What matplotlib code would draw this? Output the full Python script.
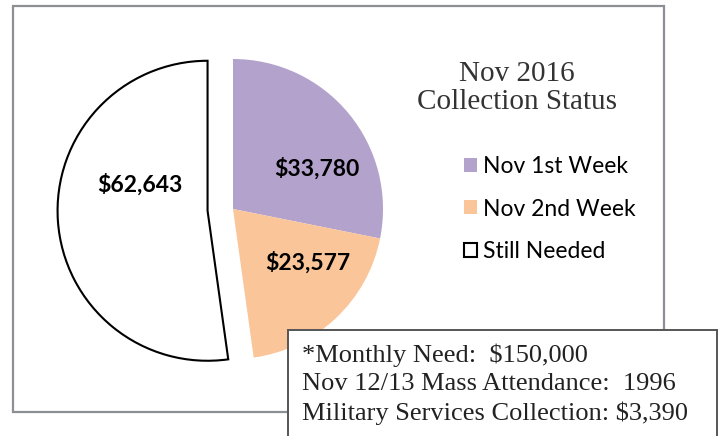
import matplotlib.pyplot as plt
from matplotlib.patches import Rectangle

# data
categories = ["Nov 1st Week", "Nov 2nd Week", "Still Needed"]
amounts = [33780, 23577, 62643]
value_labels = ["$33,780", "$23,577", "$62,643"]
colors = ["#b3a2cc", "#fac598", "white"]
explode = [0, 0, 0.17]
label_pos = [(0.56, 0.27), (0.5, -0.36), (-0.62, 0.16)]

title_lines = ["Nov 2016", "Collection Status"]
note_lines = [
    "*Monthly Need:  $150,000",
    "Nov 12/13 Mass Attendance:  1996",
    "Military Services Collection: $3,390",
]

W, H = 724, 436
fig = plt.figure(figsize=(W / 100, H / 100), dpi=100)

# outer grey frame
fig.patches.append(Rectangle((13 / W, 1 - 412 / H), (664 - 13) / W, (412 - 6) / H,
                             transform=fig.transFigure, fill=False,
                             edgecolor="#8c9094", linewidth=1.6, zorder=1))

# pie centred at (233, 209) px, radius 150 px
cx, cy, r = 233, 209, 150
ax = fig.add_axes([(cx - r) / W, (H - cy - r) / H, 2 * r / W, 2 * r / H])
wedges, _ = ax.pie(amounts, colors=colors, explode=explode, startangle=90,
                   counterclock=False, radius=1,
                   wedgeprops=dict(linewidth=0))
wedges[2].set_edgecolor("black")
wedges[2].set_linewidth(1.5)
ax.set_xlim(-1, 1)
ax.set_ylim(-1, 1)
ax.set_aspect("equal")
ax.axis("off")
for w in wedges:
    w.set_clip_on(False)

for (x, y), t in zip(label_pos, value_labels):
    ax.text(x, y, t, ha="center", va="center", fontsize=16.5,
            fontweight="bold", family="Lato", color="black")

# title
fig.text(517 / W, 1 - 88 / H, "\n".join(title_lines), ha="center", va="center",
         family="Liberation Serif", fontsize=21, color="#333333", linespacing=1.1)

# legend
leg = fig.legend(wedges, categories, loc="center left",
                 bbox_to_anchor=(464 / W, 1 - 209 / H), frameon=False,
                 prop=dict(family="Lato", size=16.5), handlelength=0.55,
                 handleheight=0.55, handletextpad=0.3, labelspacing=0.95,
                 borderpad=0, borderaxespad=0)

# note box
fig.patches.append(Rectangle((288 / W, -0.05), (717 - 288) / W, (436 - 330) / H + 0.05,
                             transform=fig.transFigure, facecolor="white",
                             edgecolor="#555555", linewidth=1.4, zorder=5))
for i, line in enumerate(note_lines):
    fig.text(302 / W, 1 - (355 + 29 * i) / H, line, ha="left", va="center",
             family="Liberation Serif", fontsize=19, color="#222222", zorder=6)

fig.savefig("out.png", dpi=100)
